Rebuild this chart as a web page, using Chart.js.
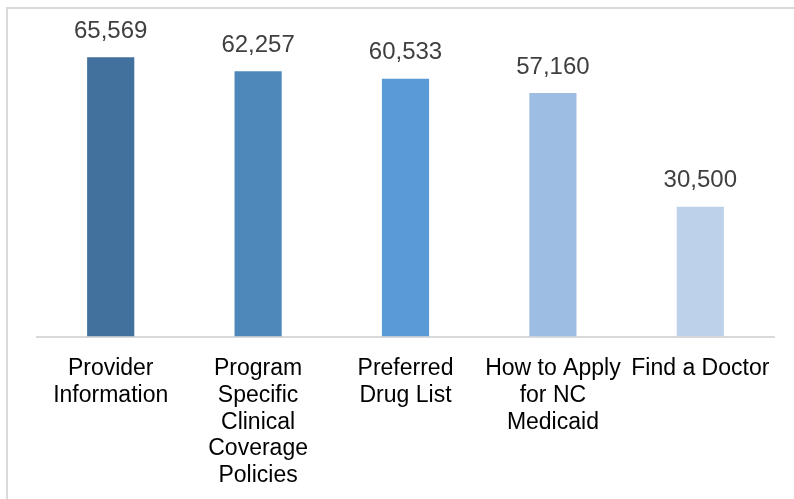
<!DOCTYPE html>
<html>
<head>
<meta charset="utf-8">
<script src="https://cdn.jsdelivr.net/npm/chart.js@4"></script>
<style>
  html, body { margin: 0; padding: 0; background: #fff; }
  #wrap { position: relative; width: 794px; height: 499px; overflow: hidden; }
  #frame { position: absolute; left: 6px; top: 7px; width: 900px; height: 600px;
           border-left: 2px solid #d9d9d9; border-top: 2px solid #d9d9d9; }
  canvas { position: absolute; left: 0; top: 0; }
</style>
</head>
<body>
<div id="wrap">
  <div id="frame"></div>
  <canvas id="bar-chart" width="794" height="499"></canvas>
</div>
<script>
  // categories and values
  var categories = [
    ["Provider", "Information"],
    ["Program", "Specific", "Clinical", "Coverage", "Policies"],
    ["Preferred", "Drug List"],
    ["How to Apply", "for NC", "Medicaid"],
    ["Find a Doctor"]
  ];
  var pageViews = [65569, 62257, 60533, 57160, 30500];
  var barColors = ["#41719c", "#4e88bb", "#5b9bd5", "#9dbde3", "#bdd1ea"];

  var fontName = "'Liberation Sans', Arial, sans-serif";

  //value labels above the bars
  var valueLabels = {
    id: 'valueLabels',
    afterDatasetsDraw: function (chart) {
      var ctx = chart.ctx;
      var meta = chart.getDatasetMeta(0);
      ctx.save();
      ctx.font = "24px " + fontName;
      ctx.fillStyle = "#404040";
      ctx.textAlign = "center";
      ctx.textBaseline = "bottom";
      meta.data.forEach(function (bar, i) {
        ctx.fillText(pageViews[i].toLocaleString('en-US'), bar.x, bar.y - 14);
      });
      ctx.restore();
    }
  };

  var ctx = document.getElementById("bar-chart");
  var chart = new Chart(ctx, {
    type: 'bar',
    data: {
      labels: categories,
      datasets: [{
        data: pageViews,
        backgroundColor: barColors,
        hoverBackgroundColor: barColors,
        borderWidth: 0,
        categoryPercentage: 1,
        barPercentage: 0.32
      }]
    },
    options: {
      responsive: false,
      animation: false,
      devicePixelRatio: 1,
      layout: {
        padding: { left: 37, right: 20, top: 17, bottom: 0 }
      },
      plugins: {
        legend: { display: false },
        tooltip: { enabled: false }
      },
      scales: {
        x: {
          grid: { display: false, drawTicks: false },
          border: { display: true, color: "#d9d9d9", width: 2 },
          ticks: {
            color: "#000",
            padding: 19,
            maxRotation: 0,
            autoSkip: false,
            font: { family: fontName, size: 23, lineHeight: 1.16 }
          },
          afterFit: function (scale) {
            scale.height -= 9;
          }
        },
        y: {
          display: false,
          min: 0,
          max: 75000
        }
      }
    },
    plugins: [valueLabels]
  });
</script>
</body>
</html>
